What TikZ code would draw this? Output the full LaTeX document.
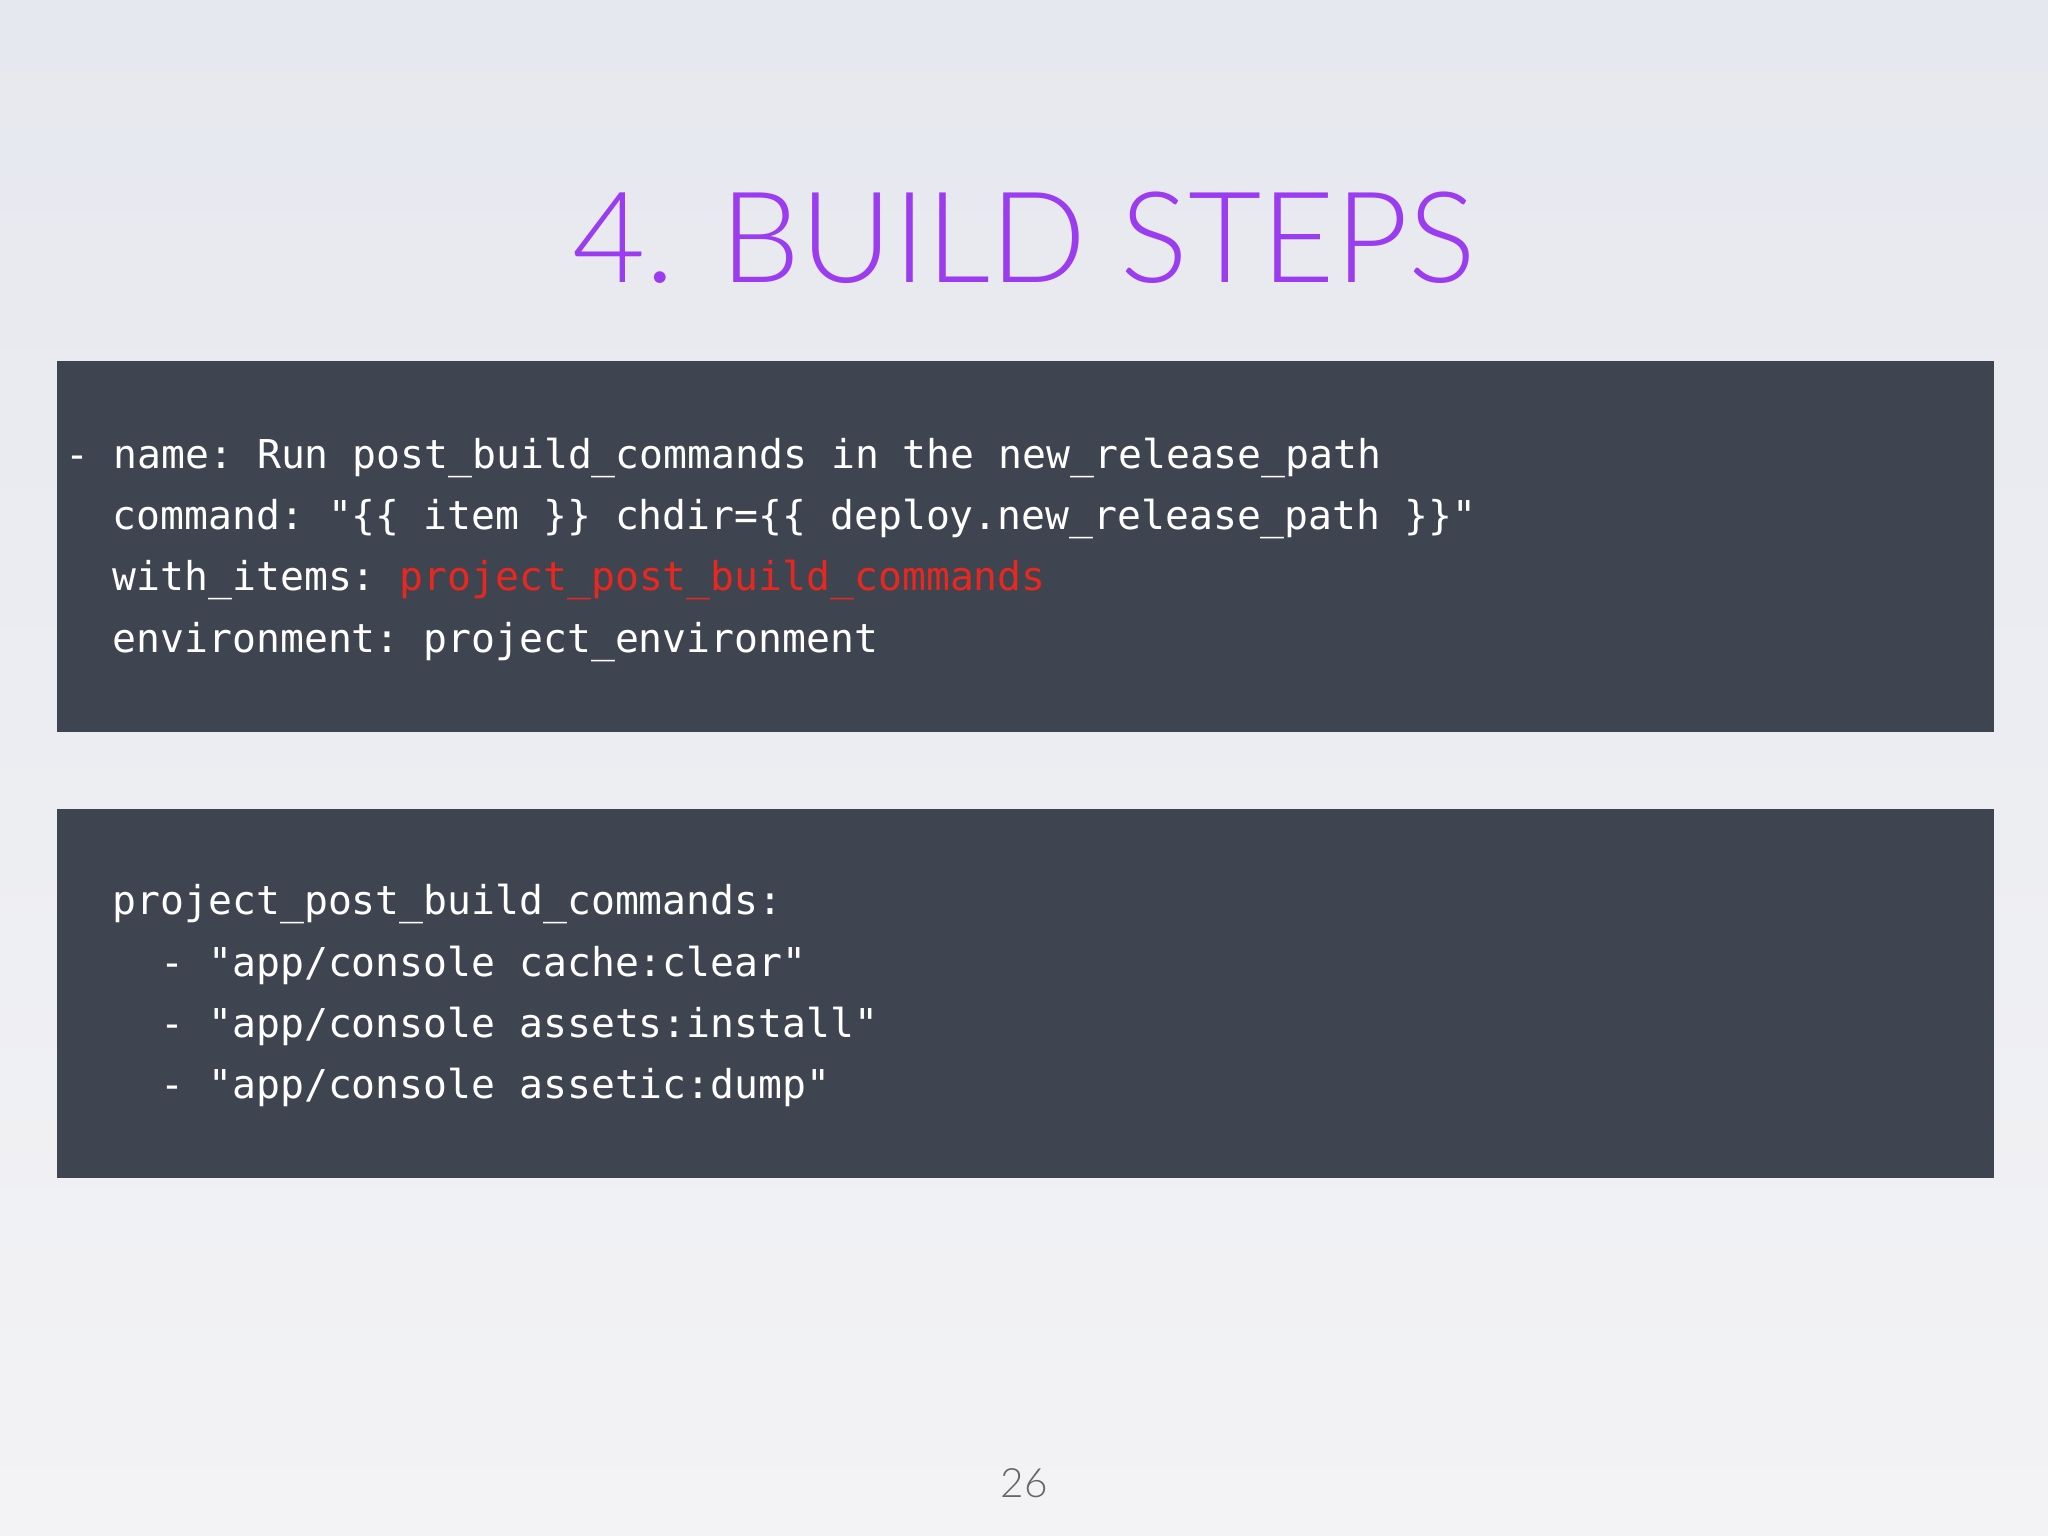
\documentclass[tikz,border=0pt]{standalone}
\usepackage{fontspec}
\setmainfont{Lato}
\newfontfamily\lightfont{Lato Light}
\setmonofont{DejaVu Sans Mono}
\definecolor{boxc}{HTML}{3F4451}
\definecolor{titlec}{HTML}{9B3CF0}
\definecolor{redc}{HTML}{E8281E}
\definecolor{bgtop}{HTML}{E6E8EF}
\definecolor{bgbot}{HTML}{F3F3F5}
\tikzset{code/.style={anchor=base west,inner sep=0pt,text=white,font=\ttfamily\fontsize{11.3pt}{13pt}\selectfont},
codebox/.style={fill=boxc,draw=none}}
\begin{document}
\begin{tikzpicture}[x=0.01cm,y=-0.01cm]
\useasboundingbox (0,0) rectangle (2048,1536);
\shade[top color=bgtop,bottom color=bgbot] (0,0) rectangle (2048,1536);
\node[anchor=base,inner sep=0pt,text=titlec,font=\lightfont\fontsize{36pt}{42pt}\selectfont] (title) at (1024,282) {4. BUILD STEPS};
\node[codebox,minimum width=19.36cm,minimum height=3.71cm,anchor=north west,inner sep=0pt] (b1) at (56,360) {};
\node[codebox,minimum width=19.36cm,minimum height=3.69cm,anchor=north west,inner sep=0pt] (b2) at (56,808) {};
\node[code] (l1) at (65,468) {- name: Run post\_build\_commands in the new\_release\_path};
\node[code] (l2) at (112,529) {command: "\{\{ item \}\} chdir=\{\{ deploy.new\_release\_path \}\}"};
\node[code] (l3) at (112,590) {with\_items: \textcolor{redc}{project\_post\_build\_commands}};
\node[code] (l4) at (112,652) {environment: project\_environment};
\node[code] (m1) at (112,914) {project\_post\_build\_commands:};
\node[code] (m2) at (112,976) {\ \ - "app/console cache:clear"};
\node[code] (m3) at (112,1037) {\ \ - "app/console assets:install"};
\node[code] (m4) at (112,1098) {\ \ - "app/console assetic:dump"};
\node[anchor=base,inner sep=0pt,text=gray!80!black,font=\lightfont\fontsize{11.5pt}{14pt}\selectfont] (pg) at (1024,1497) {26};
\end{tikzpicture}
\end{document}
